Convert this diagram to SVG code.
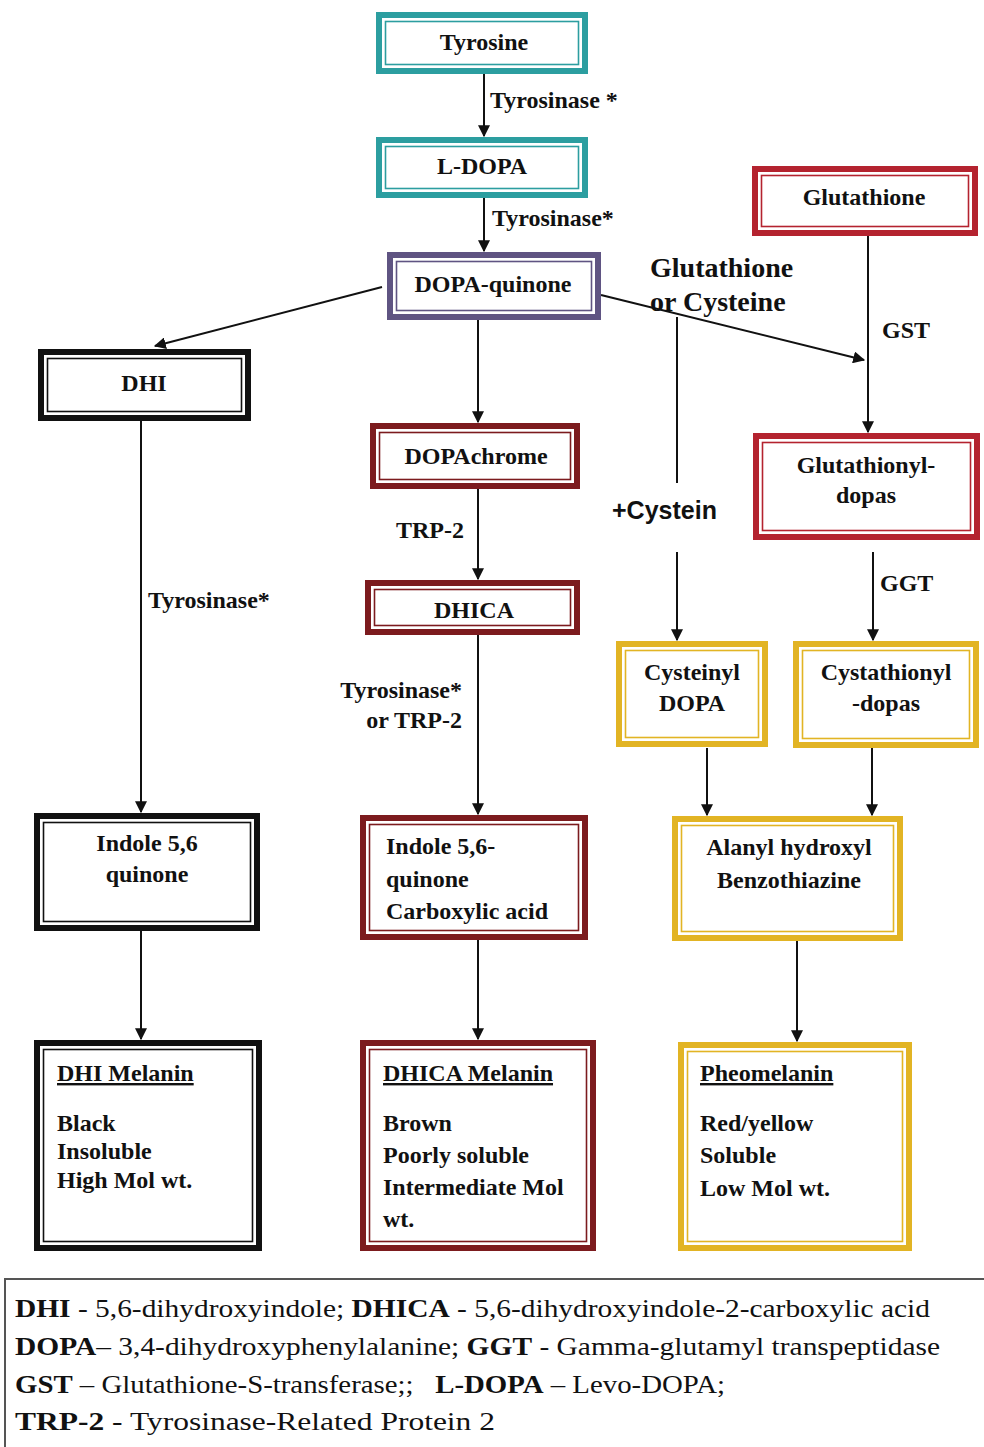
<svg xmlns="http://www.w3.org/2000/svg" width="984" height="1447" viewBox="0 0 984 1447">
<defs>
<marker id="ah" viewBox="0 0 10 10" refX="9" refY="5" markerWidth="6" markerHeight="6" markerUnits="strokeWidth" orient="auto">
<path d="M0,0 L10,5 L0,10 z" fill="#111"/>
</marker>
<style>
text{font-family:"Liberation Serif","Times New Roman",serif;font-weight:bold;fill:#111;font-size:24px}
.c{text-anchor:middle}
.e{text-anchor:end}
.u{text-decoration:underline}
.o{fill:#fff;stroke-width:6}
.i{fill:none;stroke-width:1.6}
.teal{stroke:#2c9ea0}
.pur{stroke:#5f5482}
.blk{stroke:#111}
.dred{stroke:#7c1b1e}
.red{stroke:#b4232f}
.yel{stroke:#e2b424}
.ln{stroke:#111;stroke-width:2;fill:none}
.big{font-size:28px}
.sans{font-family:"Liberation Sans",Arial,sans-serif;font-size:25px}
.leg{font-weight:normal;font-size:26px}
.leg tspan.b{font-weight:bold}
.pre{white-space:pre}
</style>
</defs>
<rect width="984" height="1447" fill="#fff"/>

<g id="connectors">
<line class="ln" x1="484" y1="74" x2="484" y2="136" marker-end="url(#ah)"/>
<line class="ln" x1="484" y1="198" x2="484" y2="251" marker-end="url(#ah)"/>
<line class="ln" x1="382" y1="287" x2="155" y2="346" marker-end="url(#ah)"/>
<line class="ln" x1="478" y1="320" x2="478" y2="422" marker-end="url(#ah)"/>
<line class="ln" x1="478" y1="489" x2="478" y2="579" marker-end="url(#ah)"/>
<line class="ln" x1="478" y1="635" x2="478" y2="814" marker-end="url(#ah)"/>
<line class="ln" x1="141" y1="421" x2="141" y2="812" marker-end="url(#ah)"/>
<line class="ln" x1="141" y1="931" x2="141" y2="1039" marker-end="url(#ah)"/>
<line class="ln" x1="478" y1="940" x2="478" y2="1039" marker-end="url(#ah)"/>
<line class="ln" x1="601" y1="295" x2="864" y2="360" marker-end="url(#ah)"/>
<line class="ln" x1="868" y1="236" x2="868" y2="432" marker-end="url(#ah)"/>
<line class="ln" x1="677" y1="317" x2="677" y2="483"/>
<line class="ln" x1="677" y1="552" x2="677" y2="640" marker-end="url(#ah)"/>
<line class="ln" x1="873" y1="552" x2="873" y2="640" marker-end="url(#ah)"/>
<line class="ln" x1="707" y1="748" x2="707" y2="815" marker-end="url(#ah)"/>
<line class="ln" x1="872" y1="748" x2="872" y2="815" marker-end="url(#ah)"/>
<line class="ln" x1="797" y1="941" x2="797" y2="1041" marker-end="url(#ah)"/>
<text x="490" y="108">Tyrosinase *</text>
<text x="492" y="226">Tyrosinase*</text>
<text x="148" y="608">Tyrosinase*</text>
<text x="396" y="538">TRP-2</text>
<text class="e" x="462" y="698">Tyrosinase*</text>
<text class="e" x="462" y="728">or TRP-2</text>
<text class="big" x="650" y="277">Glutathione</text>
<text class="big" x="650" y="311">or Cysteine</text>
<text x="882" y="338">GST</text>
<text class="sans" x="612" y="519">+Cystein</text>
<text x="880" y="591">GGT</text>
</g>

<g id="tyrosine">
<rect class="o teal" x="379" y="15" width="206" height="56"/>
<rect class="i teal" x="385.5" y="21.5" width="193" height="43"/>
<text class="c" x="484" y="50">Tyrosine</text>
</g>
<g id="ldopa">
<rect class="o teal" x="379" y="140" width="206" height="55"/>
<rect class="i teal" x="385.5" y="146.5" width="193" height="42"/>
<text class="c" x="482" y="174">L-DOPA</text>
</g>
<g id="dopaquinone">
<rect class="o pur" x="390" y="255" width="208" height="62"/>
<rect class="i pur" x="396.5" y="261.5" width="195" height="49"/>
<text class="c" x="493" y="292">DOPA-quinone</text>
</g>
<g id="dhi">
<rect class="o blk" x="41" y="352" width="207" height="66"/>
<rect class="i blk" x="47.5" y="358.5" width="194" height="53"/>
<text class="c" x="144" y="391">DHI</text>
</g>
<g id="dopachrome">
<rect class="o dred" x="373" y="426" width="204" height="60"/>
<rect class="i dred" x="379.5" y="432.5" width="191" height="47"/>
<text class="c" x="476" y="464">DOPAchrome</text>
</g>
<g id="dhica">
<rect class="o dred" x="368" y="583" width="209" height="49"/>
<rect class="i dred" x="374.5" y="589.5" width="196" height="36"/>
<text class="c" x="474" y="618">DHICA</text>
</g>
<g id="indolequinone">
<rect class="o blk" x="37" y="816" width="220" height="112"/>
<rect class="i blk" x="43.5" y="822.5" width="207" height="99"/>
<text class="c" x="147" y="851">Indole 5,6</text>
<text class="c" x="147" y="882">quinone</text>
</g>
<g id="indolecarboxylic">
<rect class="o dred" x="363" y="818" width="222" height="119"/>
<rect class="i dred" x="369.5" y="824.5" width="209" height="106"/>
<text x="386" y="854">Indole 5,6-</text>
<text x="386" y="887">quinone</text>
<text x="386" y="919">Carboxylic acid</text>
</g>
<g id="dhimelanin">
<rect class="o blk" x="37" y="1043" width="222" height="205"/>
<rect class="i blk" x="43.5" y="1049.5" width="209" height="192"/>
<text class="u" x="57" y="1081">DHI Melanin</text>
<text x="57" y="1131">Black</text>
<text x="57" y="1159">Insoluble</text>
<text x="57" y="1188">High Mol wt.</text>
</g>
<g id="dhicamelanin">
<rect class="o dred" x="363" y="1043" width="230" height="205"/>
<rect class="i dred" x="369.5" y="1049.5" width="217" height="192"/>
<text class="u" x="383" y="1081">DHICA Melanin</text>
<text x="383" y="1131">Brown</text>
<text x="383" y="1163">Poorly soluble</text>
<text x="383" y="1195">Intermediate Mol</text>
<text x="383" y="1227">wt.</text>
</g>
<g id="glutathione">
<rect class="o red" x="755" y="169" width="220" height="64"/>
<rect class="i red" x="761.5" y="175.5" width="207" height="51"/>
<text class="c" x="864" y="205">Glutathione</text>
</g>
<g id="glutathionyldopas">
<rect class="o red" x="756" y="436" width="221" height="101"/>
<rect class="i red" x="762.5" y="442.5" width="208" height="88"/>
<text class="c" x="866" y="473">Glutathionyl-</text>
<text class="c" x="866" y="503">dopas</text>
</g>
<g id="cysteinyldopa">
<rect class="o yel" x="619" y="644" width="146" height="100"/>
<rect class="i yel" x="625.5" y="650.5" width="133" height="87"/>
<text class="c" x="692" y="680">Cysteinyl</text>
<text class="c" x="692" y="711">DOPA</text>
</g>
<g id="cystathionyldopas">
<rect class="o yel" x="796" y="644" width="180" height="101"/>
<rect class="i yel" x="802.5" y="650.5" width="167" height="88"/>
<text class="c" x="886" y="680">Cystathionyl</text>
<text class="c" x="886" y="711">-dopas</text>
</g>
<g id="alanyl">
<rect class="o yel" x="675" y="819" width="225" height="119"/>
<rect class="i yel" x="681.5" y="825.5" width="212" height="106"/>
<text class="c" x="789" y="855">Alanyl hydroxyl</text>
<text class="c" x="789" y="888">Benzothiazine</text>
</g>
<g id="pheomelanin">
<rect class="o yel" x="681" y="1045" width="228" height="203"/>
<rect class="i yel" x="687.5" y="1051.5" width="215" height="190"/>
<text class="u" x="700" y="1081">Pheomelanin</text>
<text x="700" y="1131">Red/yellow</text>
<text x="700" y="1163">Soluble</text>
<text x="700" y="1196">Low Mol wt.</text>
</g>

<g id="legend">
<rect x="5" y="1279" width="990" height="180" fill="#fff" stroke="#555" stroke-width="2"/>
<text class="leg" x="15" y="1317" textLength="915" lengthAdjust="spacingAndGlyphs"><tspan class="b">DHI</tspan> - 5,6-dihydroxyindole; <tspan class="b">DHICA</tspan> - 5,6-dihydroxyindole-2-carboxylic acid</text>
<text class="leg" x="15" y="1355" textLength="925" lengthAdjust="spacingAndGlyphs"><tspan class="b">DOPA</tspan>– 3,4-dihydroxyphenylalanine; <tspan class="b">GGT</tspan> - Gamma-glutamyl transpeptidase</text>
<text class="leg pre" x="15" y="1393" textLength="710" lengthAdjust="spacingAndGlyphs"><tspan class="b">GST</tspan> – Glutathione-S-transferase;;   <tspan class="b">L-DOPA</tspan> – Levo-DOPA;</text>
<text class="leg" x="15" y="1430" textLength="480" lengthAdjust="spacingAndGlyphs"><tspan class="b">TRP-2</tspan> - Tyrosinase-Related Protein 2</text>
</g>
</svg>
